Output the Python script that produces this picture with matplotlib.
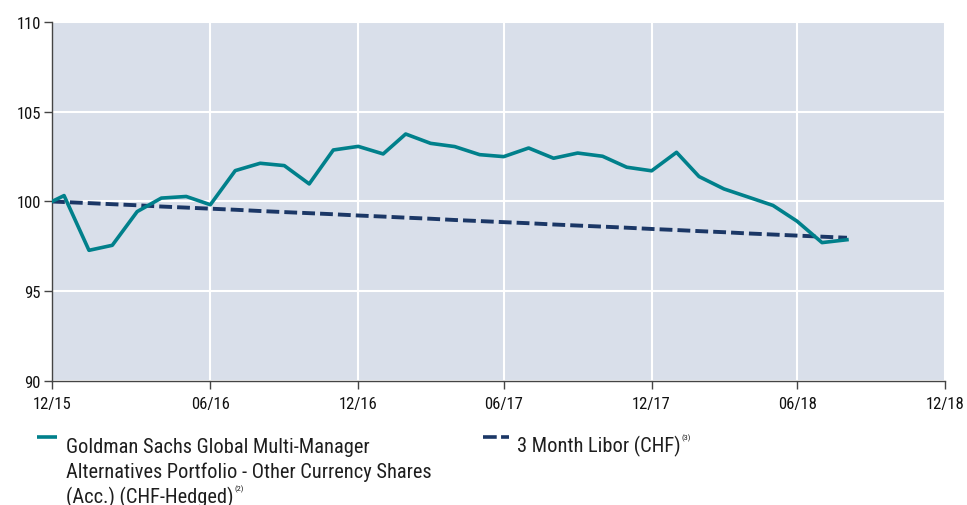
import matplotlib
matplotlib.use("Agg")
import matplotlib.pyplot as plt
from matplotlib.lines import Line2D
import pandas as pd

plt.rcParams['font.family'] = ['Roboto Condensed', 'DejaVu Sans']

dates = ["2015-12-16", "2015-12-31", "2016-01-31", "2016-02-29", "2016-03-31", "2016-04-30",
         "2016-05-31", "2016-06-30", "2016-07-31", "2016-08-31", "2016-09-30", "2016-10-31",
         "2016-11-30", "2016-12-31", "2017-01-31", "2017-02-28", "2017-03-31", "2017-04-30",
         "2017-05-31", "2017-06-30", "2017-07-31", "2017-08-31", "2017-09-30", "2017-10-31",
         "2017-11-30", "2017-12-31", "2018-01-31", "2018-02-28", "2018-03-31", "2018-04-30",
         "2018-05-31", "2018-06-30", "2018-07-31", "2018-08-31"]

fund = [100.00, 100.33, 97.28, 97.56, 99.44, 100.19, 100.28, 99.82, 101.72, 102.13, 102.00,
        100.98, 102.87, 103.07, 102.65, 103.76, 103.24, 103.06, 102.61, 102.50, 102.98, 102.41,
        102.70, 102.52, 101.91, 101.71, 102.74, 101.39, 100.70, 100.25, 99.78, 98.90, 97.71, 97.87]

libor = [100.00, 99.97, 99.91, 99.85, 99.79, 99.72, 99.66, 99.60, 99.54, 99.47, 99.41, 99.35,
         99.29, 99.22, 99.16, 99.10, 99.04, 98.97, 98.91, 98.85, 98.79, 98.72, 98.66, 98.60,
         98.54, 98.47, 98.41, 98.35, 98.29, 98.22, 98.16, 98.10, 98.04, 97.98]

tick_dates = ["2015-12-16", "2016-06-30", "2016-12-31", "2017-06-30", "2017-12-31",
              "2018-06-30", "2018-12-31"]
tick_labels = ["12/15", "06/16", "12/16", "06/17", "12/17", "06/18", "12/18"]
y_ticks = [90, 95, 100, 105, 110]

fund_label_lines = ["Goldman Sachs Global Multi-Manager",
                    "Alternatives Portfolio - Other Currency Shares",
                    "(Acc.) (CHF-Hedged)"]
fund_note = "(2)"
libor_label = "3 Month Libor (CHF)"
libor_note = "(3)"

TEAL = "#00808B"
NAVY = "#1B3766"
BG = "#D9DFEA"
TXT = "#1E1E1E"

W, H = 967, 506
fig = plt.figure(figsize=(W / 100, H / 100), dpi=100)
ax = fig.add_axes([52 / W, 1 - 382 / H, (945 - 52) / W, (382 - 23) / H])

x = pd.to_datetime(dates)
xt = pd.to_datetime(tick_dates)

DASH = (3.3, 1.3)
ax.set_facecolor(BG)
ax.plot(x, libor, color=NAVY, lw=2.8, dashes=DASH, zorder=3, dash_capstyle='butt')
ax.plot(x, fund, color=TEAL, lw=2.6, zorder=4)

ax.set_xlim(xt[0], xt[-1])
ax.set_ylim(90, 110)
ax.set_xticks(xt)
ax.set_xticklabels(tick_labels)
ax.set_yticks(y_ticks)
ax.grid(True, color='white', lw=1.5)
ax.set_axisbelow(True)
for s in ['top', 'right']:
    ax.spines[s].set_visible(False)
for s in ['left', 'bottom']:
    ax.spines[s].set_color('#444444')
    ax.spines[s].set_linewidth(1.0)
ax.tick_params(axis='both', direction='out', length=6, width=1, color='#444444',
               labelsize=12, labelcolor='#111111')
ax.tick_params(axis='x', pad=5)
ax.tick_params(axis='y', pad=2)

# Legend drawn manually
fs = 14.7
lw_y = 1 - 438 / H
fig.add_artist(Line2D([37 / W, 57 / W], [lw_y, lw_y], color=TEAL, lw=2.6,
                      transform=fig.transFigure, solid_capstyle='butt'))
fig.add_artist(Line2D([483 / W, 509 / W], [lw_y, lw_y], color=NAVY, lw=2.6,
                      dashes=(3.8, 1.2), transform=fig.transFigure, dash_capstyle='butt'))

baselines = [453, 478, 503]
texts = []
for line, b in zip(fund_label_lines, baselines):
    texts.append(fig.text(66 / W, 1 - b / H, line, fontsize=fs, va='baseline', ha='left',
                          color=TXT))
t2 = fig.text(517 / W, 1 - 452 / H, libor_label, fontsize=fs, va='baseline', ha='left',
              color=TXT)

fig.canvas.draw()
r = fig.canvas.get_renderer()
bb = texts[-1].get_window_extent(r)
fig.text((bb.x1 + 1) / W, 1 - (503 - 12) / H, fund_note, fontsize=6, color=TXT,
         ha='left', va='baseline')
bb2 = t2.get_window_extent(r)
fig.text((bb2.x1 + 1) / W, 1 - (452 - 12) / H, libor_note, fontsize=6, color=TXT,
         ha='left', va='baseline')

fig.savefig("out.png", dpi=100)
